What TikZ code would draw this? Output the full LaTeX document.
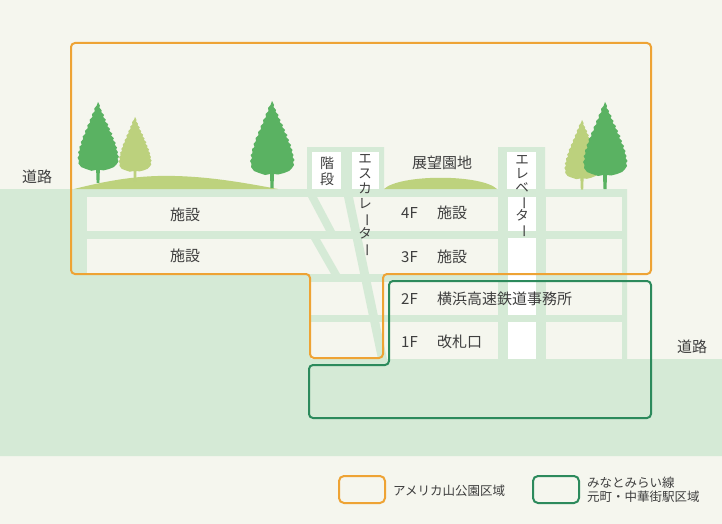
\documentclass[tikz,border=0pt]{standalone}
\usepackage{fontspec}
\newfontfamily\jp{Noto Sans CJK JP}
\definecolor{bg}{RGB}{245,246,238}
\definecolor{ground}{RGB}{213,234,214}
\definecolor{hill}{RGB}{189,210,125}
\definecolor{treeDark}{RGB}{90,178,98}
\definecolor{treeLight}{RGB}{188,209,125}
\definecolor{parkline}{RGB}{238,163,52}
\definecolor{stationline}{RGB}{44,138,92}
\definecolor{ink}{RGB}{62,62,62}
\newcommand\tightlines{\lineskiplimit=-20pt\relax}
\tikzset{
  lbl/.style={font=\jp\fontsize{15}{17}\selectfont, text=ink, inner sep=0pt},
  vlbl/.style={text=ink, inner sep=0pt, align=center},
  leg/.style={font=\jp\fontsize{12.5}{14.5}\selectfont, text=ink, inner sep=0pt},
  parkzone/.style={draw=parkline, line width=2pt, rounded corners=4pt},
  stationzone/.style={draw=stationline, line width=2pt, rounded corners=4pt},
  conifer/.pic={
    \path[pic actions] (0,0) -- (2,4) -- (1.5,6) -- (4,9) -- (3.5,11) -- (6.5,14) -- (5.5,16)
      -- (8.5,19) -- (7.5,21) -- (11,24) -- (10,26) -- (13,29) -- (12,31) -- (15.5,34)
      -- (14,36) -- (17,39) -- (16,41) -- (19,44) -- (18,46) -- (20.5,49) -- (19.5,51)
      -- (21.5,54) -- (20.5,56) -- (22.5,59) -- (21,61) -- (22,64) -- (20,67) -- (17,70)
      -- (12,72) -- (6,73.5) -- (2,73) -- (1.5,87) -- (-1.5,87) -- (-2,73) -- (-7,74)
      -- (-13,72) -- (-18,70) -- (-21,66) -- (-20.5,63) -- (-22,60) -- (-20,57) -- (-21.5,54)
      -- (-19.5,52) -- (-20,48) -- (-17.5,46) -- (-18.5,43) -- (-16,40) -- (-16.5,37)
      -- (-13.5,34) -- (-14,31) -- (-11,28) -- (-11.5,25) -- (-8.5,22) -- (-9,19)
      -- (-6,16) -- (-6.5,13) -- (-3.5,10) -- (-4,7) -- (-1.5,4) -- cycle;
  }
}
\newcommand\vbar{\rotatebox[origin=c]{-90}{ー}}
\begin{document}
\begin{tikzpicture}[x=1pt,y=-1pt]
\useasboundingbox (0,0) rectangle (722,524);
\fill[bg] (0,0) rectangle (722,524);

% ground and building frame
\fill[ground] (0,189) -- (307,189) -- (307,147) -- (384,147) -- (384,189) -- (498,189)
  -- (498,147) -- (545,147) -- (545,189) -- (627,189) -- (627,359) -- (722,359)
  -- (722,456) -- (0,456) -- cycle;

% floors
\fill[bg] (87,197) rectangle (622,231);
\fill[bg] (87,239) rectangle (622,274);
\fill[bg] (311,282) rectangle (622,315);
\fill[bg] (311,322) rectangle (622,359);

% stair flights
\fill[ground] (308,197) -- (317,197) -- (335,231) -- (326,231) -- cycle;
\fill[ground] (311,239) -- (320,239) -- (340,274) -- (331,274) -- cycle;
% escalator
\fill[ground] (344,197) -- (353,197) -- (387,359) -- (378,359) -- cycle;

% elevator shaft
\fill[ground] (498,197) rectangle (546,359);
\fill[white] (508,197) rectangle (536,231);
\fill[white] (508,238) rectangle (536,315);
\fill[white] (508,322) rectangle (536,359);

% rooftop boxes
\fill[white] (312,152) rectangle (341,189);
\fill[white] (352,152) rectangle (379,189);
\fill[white] (507,152) rectangle (536,189);

% hills
\fill[hill] (74,189) .. controls (110,180) and (140,175) .. (175,176)
  .. controls (215,177) and (250,184) .. (278,189) -- cycle;
\fill[hill] (384,189) .. controls (400,174) and (481,174) .. (497,189) -- cycle;

% trees
\pic[fill=treeDark, scale=0.93] at (98,102) {conifer};
\pic[fill=treeLight, scale=0.74] at (135,117) {conifer};
\pic[fill=treeDark] at (272,101) {conifer};
\pic[fill=treeLight, scale=0.8] at (582,120) {conifer};
\pic[fill=treeDark] at (605,102) {conifer};

% zone outlines
\draw[parkzone] (71,43) -- (651,43) -- (651,274) -- (383,274) -- (383,358) -- (310,358)
  -- (310,274) -- (71,274) -- cycle;
\draw[stationzone] (389,281) -- (651,281) -- (651,418) -- (309,418) -- (309,365)
  -- (389,365) -- cycle;

% labels
\node[lbl] (roadL) at (37,177) {道路};
\node[lbl] (roadR) at (692,347) {道路};
\node[lbl] (facL4) at (185,215) {施設};
\node[lbl] (facL3) at (185,256) {施設};
\node[lbl] (garden) at (442,163) {展望園地};
\node[lbl, anchor=west] (fl4) at (401,213) {4F};
\node[lbl, anchor=west] (fac4) at (437,213) {施設};
\node[lbl, anchor=west] (fl3) at (401,257) {3F};
\node[lbl, anchor=west] (fac3) at (437,257) {施設};
\node[lbl, anchor=west] (fl2) at (401,299) {2F};
\node[lbl, anchor=west] (office) at (437,299) {横浜高速鉄道事務所};
\node[lbl, anchor=west] (fl1) at (401,342) {1F};
\node[lbl, anchor=west] (gate) at (437,342) {改札口};
\node[vlbl, font=\jp\fontsize{14}{16}\selectfont\tightlines] (stairs) at (327,171) {階\\段};
\node[vlbl, font=\jp\fontsize{13.5}{15}\selectfont\tightlines] (esc) at (365,206) {エ\\ス\\カ\\レ\\\vbar\\タ\\\vbar};
\node[vlbl, font=\jp\fontsize{13.5}{14}\selectfont\tightlines] (elev) at (522,197) {エ\\レ\\ベ\\\vbar\\タ\\\vbar};

% legend
\draw[parkzone, rounded corners=5pt] (339,476) rectangle (385,503);
\node[leg, anchor=west] (legPark) at (393,491) {アメリカ山公園区域};
\draw[stationzone, rounded corners=5pt] (533,476) rectangle (579,503);
\node[leg, anchor=west, align=left] (legStation) at (587,490) {みなとみらい線\\元町・中華街駅区域};
\end{tikzpicture}
\end{document}
